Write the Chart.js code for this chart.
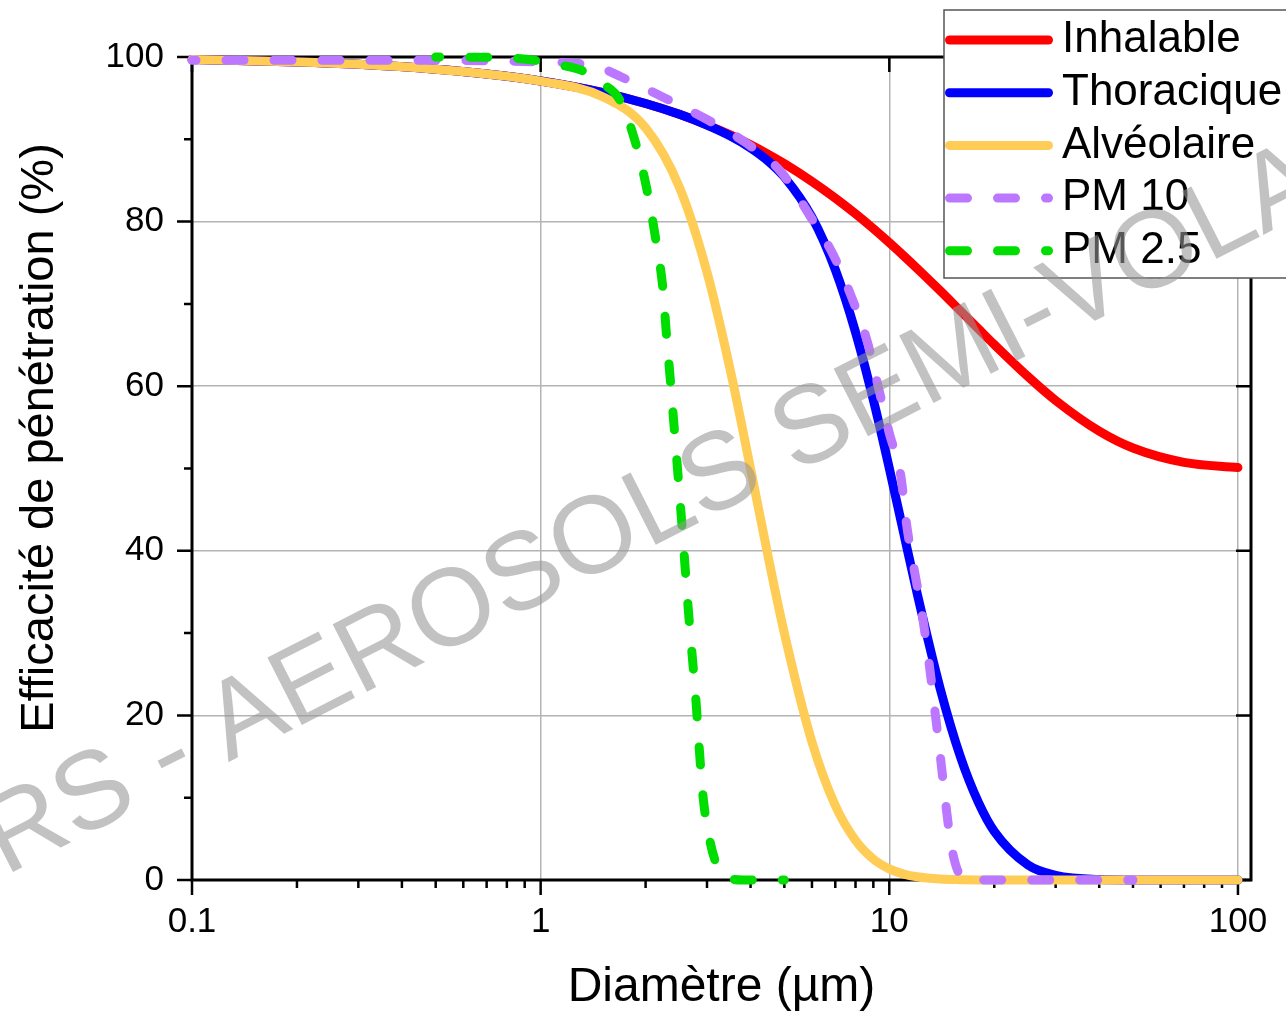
<!DOCTYPE html>
<html>
<head>
<meta charset="utf-8">
<script src="https://cdn.jsdelivr.net/npm/chart.js@4.4.0/dist/chart.umd.min.js"></script>
<style>
  html, body { margin: 0; padding: 0; background: #fff; }
  #wrap { width: 1286px; height: 1017px; }
</style>
</head>
<body>
<div id="wrap"><canvas id="chart" width="1286" height="1017"></canvas></div>
<script>
// diamètres communs aux trois conventions (µm)
const diam = [0.1, 0.2, 0.3, 0.5, 0.7, 1, 1.5, 2, 2.5, 3, 3.5, 4, 4.5, 5, 6, 7, 8, 9, 10, 11, 12, 14, 16, 18, 20, 25, 30, 40, 50, 70, 100];
const inhalable = [99.70, 99.40, 99.11, 98.52, 97.94, 97.09, 95.70, 94.35, 93.04, 91.76, 90.53, 89.33, 88.17, 87.04, 84.88, 82.85, 80.94, 79.14, 77.44, 75.84, 74.34, 71.59, 69.14, 66.98, 65.06, 61.16, 58.27, 54.54, 52.49, 50.75, 50.12];
const thoracique = [99.70, 99.40, 99.11, 98.52, 97.94, 97.09, 95.70, 94.35, 93.03, 91.72, 90.39, 88.95, 87.33, 85.42, 80.54, 74.16, 66.57, 58.33, 50.03, 42.13, 34.95, 23.23, 14.96, 9.46, 5.91, 1.82, 0.57, 0.06, 0.01, 0, 0];
const alveolaire = [99.70, 99.40, 99.11, 98.52, 97.94, 97.07, 95.21, 91.38, 84.17, 73.85, 61.92, 49.97, 39.14, 29.97, 16.77, 9.05, 4.81, 2.54, 1.35, 0.72, 0.39, 0.12, 0.04, 0.01, 0, 0, 0, 0, 0, 0, 0];

const pm10Diam = [0.1, 0.3, 0.5, 0.8, 1, 1.28, 1.5, 1.7, 2.2, 3.0, 3.9, 4.9, 5.9, 6.9, 7.8, 8.65, 9.3, 10, 10.8, 11.2, 11.8, 12.4, 13, 13.5, 14, 14.5, 15.1, 16, 17, 50];
const pm10 = [99.6, 99.6, 99.6, 99.5, 99.4, 99.2, 98.6, 97.6, 95.3, 92.4, 89.5, 86.0, 80.8, 76.0, 70.8, 65.4, 59.9, 54.3, 49.0, 43.3, 37.6, 32.5, 26.4, 20.7, 15.1, 9.4, 3.9, 0.5, 0, 0];

const pm25Diam = [0.5, 0.8, 1.0, 1.15, 1.34, 1.5, 1.69, 1.88, 2.02, 2.13, 2.24, 2.29, 2.35, 2.41, 2.47, 2.53, 2.59, 2.65, 2.72, 2.79, 2.85, 2.92, 3.06, 3.25, 3.5, 3.8, 5.0];
const pm25 = [100, 99.9, 99.5, 99.0, 98.2, 96.8, 94.7, 89.3, 83.8, 78.3, 72.0, 66.8, 61.2, 55.5, 49.9, 44.3, 38.6, 33.0, 27.3, 21.7, 16.0, 10.3, 4.7, 1.2, 0.2, 0, 0];

const xTicks = [0.1, 0.2, 0.3, 0.4, 0.5, 0.6, 0.7, 0.8, 0.9, 1, 2, 3, 4, 5, 6, 7, 8, 9, 10, 20, 30, 40, 50, 60, 70, 80, 90, 100];
const xLabels = ["0.1", "1", "10", "100"];
const yTicks = [0, 10, 20, 30, 40, 50, 60, 70, 80, 90, 100];
const yLabels = ["0", "20", "40", "60", "80", "100"];

const xTitle = "Diamètre (µm)";
const yTitle = "Efficacité de pénétration (%)";
const watermark = "INRS - AEROSOLS SEMI-VOLATILS";

const FONT = '"Liberation Sans", Arial, sans-serif';
Chart.defaults.font.family = FONT;
Chart.defaults.color = "#000";

function pts(xs, ys) {
  return xs.map((d, i) => ({ x: d, y: ys[i] }));
}

function line(label, xs, ys, color, order, dash) {
  return {
    label: label,
    data: pts(xs, ys),
    borderColor: color,
    backgroundColor: color,
    borderWidth: 9,
    borderCapStyle: "round",
    borderJoinStyle: "round",
    borderDash: dash || [],
    borderDashOffset: dash ? 14 : 0,
    pointRadius: 0,
    fill: false,
    cubicInterpolationMode: "monotone",
    clip: false,
    order: order
  };
}

// axes cadre + graduations
const framePlugin = {
  id: "frame",
  beforeDatasetsDraw(chart) {
    const { ctx, chartArea: a, scales } = chart;
    const x = scales.x, y = scales.y;
    ctx.save();
    ctx.strokeStyle = "#000";
    ctx.lineWidth = 3;
    ctx.strokeRect(a.left, a.top, a.right - a.left, a.bottom - a.top);
    ctx.lineWidth = 2.5;
    ctx.beginPath();
    xTicks.forEach(v => {
      const px = x.getPixelForValue(v);
      const major = xLabels.includes(String(v));
      ctx.moveTo(px, a.bottom);
      ctx.lineTo(px, a.bottom + (major ? 15 : 8));
      if (major) {
        ctx.moveTo(px, a.top);
        ctx.lineTo(px, a.top + 15);
      }
    });
    yTicks.forEach(v => {
      const py = y.getPixelForValue(v);
      const major = yLabels.includes(String(v));
      ctx.moveTo(a.left, py);
      ctx.lineTo(a.left - (major ? 15 : 8), py);
      if (major) {
        ctx.moveTo(a.right, py);
        ctx.lineTo(a.right - 15, py);
      }
    });
    ctx.stroke();
    ctx.restore();
  }
};

// légende encadrée, titre Y et filigrane
const overlayPlugin = {
  id: "overlay",
  afterDraw(chart) {
    const ctx = chart.ctx;
    ctx.save();

    ctx.fillStyle = "#fff";
    ctx.fillRect(944, 10, 350, 268);
    ctx.strokeStyle = "#555";
    ctx.lineWidth = 1.5;
    ctx.strokeRect(944, 10, 350, 268);

    ctx.font = "44px " + FONT;
    ctx.textBaseline = "middle";
    ctx.textAlign = "left";
    chart.data.datasets.forEach((ds, i) => {
      const ly = 40 + i * 52.7;
      ctx.beginPath();
      ctx.strokeStyle = ds.borderColor;
      ctx.lineWidth = 9;
      ctx.lineCap = "round";
      ctx.setLineDash(ds.borderDash.length ? [18, 30] : []);
      ctx.moveTo(949.5, ly);
      ctx.lineTo(1048.5, ly);
      ctx.stroke();
      ctx.setLineDash([]);
      ctx.fillStyle = "#000";
      ctx.fillText(ds.label, 1062, ly);
    });

    ctx.save();
    ctx.translate(40, 438);
    ctx.rotate(-Math.PI / 2);
    ctx.font = "47px " + FONT;
    ctx.textAlign = "center";
    ctx.textBaseline = "middle";
    ctx.fillStyle = "#000";
    ctx.fillText(yTitle, 0, 0);
    ctx.restore();

    ctx.translate(-93, 926);
    ctx.rotate(-27 * Math.PI / 180);
    ctx.font = "110px " + FONT;
    ctx.textAlign = "left";
    ctx.textBaseline = "alphabetic";
    ctx.fillStyle = "rgba(150,150,150,0.58)";
    ctx.fillText(watermark, 0, 0);
    ctx.restore();
  }
};

new Chart(document.getElementById("chart"), {
  type: "line",
  data: {
    datasets: [
      line("Inhalable", diam, inhalable, "#ff0000", 5),
      line("Thoracique", diam, thoracique, "#0000ff", 4),
      line("Alvéolaire", diam, alveolaire, "#ffcc55", 3),
      line("PM 10", pm10Diam, pm10, "#bb77ff", 2, [18, 30]),
      line("PM 2.5", pm25Diam, pm25, "#00dd00", 1, [18, 30])
    ]
  },
  options: {
    responsive: false,
    animation: false,
    devicePixelRatio: 1,
    layout: { padding: { top: 57, right: 35, left: 0, bottom: 0 } },
    plugins: {
      legend: { display: false },
      tooltip: { enabled: false }
    },
    scales: {
      x: {
        type: "logarithmic",
        min: 0.1,
        max: 109,
        afterBuildTicks: s => { s.ticks = xTicks.map(v => ({ value: v })); },
        afterFit: s => { s.height = 137; s.paddingLeft = 0; s.paddingRight = 0; },
        border: { display: false },
        grid: {
          drawTicks: false,
          lineWidth: 1.5,
          color: c => (c.tick && [1, 10, 100].includes(c.tick.value)) ? "#b4b4b4" : "rgba(0,0,0,0)"
        },
        ticks: {
          autoSkip: false,
          maxRotation: 0,
          padding: 21,
          font: { size: 35 },
          callback: v => xLabels.includes(String(v)) ? String(v) : ""
        },
        title: {
          display: true,
          text: xTitle,
          font: { size: 48 },
          padding: { top: 0, bottom: 0 }
        }
      },
      y: {
        type: "linear",
        min: 0,
        max: 100,
        afterBuildTicks: s => { s.ticks = yTicks.map(v => ({ value: v })); },
        afterFit: s => { s.width = 192; s.paddingTop = 0; s.paddingBottom = 0; },
        border: { display: false },
        grid: {
          drawTicks: false,
          lineWidth: 1.5,
          color: c => (c.tick && [20, 40, 60, 80].includes(c.tick.value)) ? "#b4b4b4" : "rgba(0,0,0,0)"
        },
        ticks: {
          autoSkip: false,
          padding: 28,
          font: { size: 35 },
          callback: v => yLabels.includes(String(v)) ? String(v) : ""
        }
      }
    }
  },
  plugins: [framePlugin, overlayPlugin]
});
</script>
</body>
</html>
